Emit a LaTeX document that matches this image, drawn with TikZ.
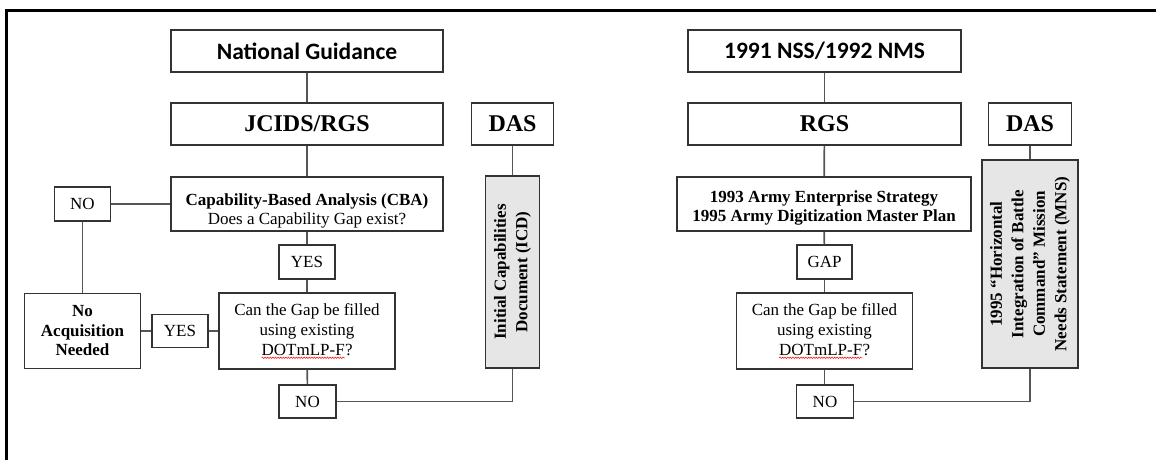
\documentclass[tikz,border=0pt]{standalone}
\usepackage{fontspec}
\setmainfont{Liberation Serif}
\newfontfamily\carlito{Carlito}
\usetikzlibrary{decorations.pathmorphing}
\definecolor{boxc}{HTML}{333333}
\definecolor{linec}{HTML}{555555}
\definecolor{grayfill}{HTML}{E6E6E6}
\newcommand\bodyfont{\fontsize{17}{20}\selectfont}
\newcommand\headfont{\carlito\bfseries\fontsize{23.5}{28}\selectfont}
\newcommand\bigfont{\bfseries\fontsize{24}{28}\selectfont}
\newcommand\vfont{\bfseries\fontsize{17}{21.5}\selectfont}
\newcommand\spellerr[1]{\tikz[baseline=(w.base),x=1pt,y=1pt]{\node[inner sep=0pt,outer sep=0pt,draw=none,fill=none,minimum width=0pt,minimum height=0pt,text height={},text depth={}](w){#1};\draw[draw=red,fill=none,line width=0.5pt,decorate,decoration={snake,amplitude=0.7pt,segment length=2.6pt}]([yshift=-2.5pt]w.base west)--([yshift=-2.5pt]w.base east);}}
\begin{document}
\begin{tikzpicture}[x=1pt,y=-1pt,
  box/.style={draw=boxc, line width=1.3pt, fill=white, inner sep=0pt, align=center, font=\bodyfont},
  conn/.style={draw=linec, line width=1.7pt},
  vbox/.style={box, fill=grayfill, rotate=90, font=\vfont}]
\useasboundingbox (0,0) rectangle (1156,460);
\draw[line width=3pt] (6.5,460) -- (6.5,10.5) -- (1156,10.5);

% ---------- left diagram ----------
\node[box, minimum width=272, minimum height=42, font=\headfont] (ng) at (307,51) {National Guidance};
\node[box, minimum width=272, minimum height=42, font=\bigfont] (jc) at (307,124) {JCIDS/RGS};
\node[box, minimum width=82, minimum height=42, font=\bigfont] (dasL) at (512.5,124) {DAS};
\node[box, minimum width=272, text height=47.6, text depth=6.4, font=\fontsize{17}{19}\selectfont] (cba) at (307,204)
  {\textbf{Capability-Based Analysis (CBA)}\\Does a Capability Gap exist?};
\node[box, minimum width=56, minimum height=34] (noL) at (82.5,204) {NO};
\node[box, minimum width=56, minimum height=34] (yesT) at (307,262) {YES};
\node[box, minimum width=176, minimum height=76, font=\fontsize{17}{20}\selectfont] (can) at (307,331)
  {Can the Gap be filled\\using existing\\\spellerr{DOTmLP-F}?};
\node[box, minimum width=116, minimum height=75, font=\bfseries\fontsize{17}{19.5}\selectfont] (noacq) at (82.5,331)
  {No\\Acquisition\\Needed};
\node[box, minimum width=56, minimum height=33] (yesS) at (180,331) {YES};
\node[box, minimum width=57, minimum height=33] (noB) at (307.5,401.5) {NO};
\node[vbox, minimum width=192, minimum height=54] (icd) at (512.5,272)
  {Initial Capabilities\\Document (ICD)};

\draw[conn] (ng) -- (jc);
\draw[conn] (jc) -- (cba);
\draw[conn] (cba) -- (yesT);
\draw[conn] (yesT) -- (can);
\draw[conn] (can) -- (noB);
\draw[conn] (cba.west) -- (noL.east);
\draw[conn] (noL) -- (noacq);
\draw[conn] (noacq) -- (yesS);
\draw[conn] (yesS) -- (can);
\draw[conn] (dasL.south) -- (icd.east);
\draw[conn] (noB.east) -| (icd.west);

% ---------- right diagram ----------
\node[box, minimum width=273, minimum height=42, font=\headfont] (ng2) at (824.5,51) {1991 NSS/1992 NMS};
\node[box, minimum width=273, minimum height=42, font=\bigfont] (rgs) at (824.5,124) {RGS};
\node[box, minimum width=83, minimum height=42, font=\bigfont] (dasR) at (1030,124) {DAS};
\node[box, minimum width=294, text height=44, text depth=10, font=\bfseries\fontsize{17}{19}\selectfont] (arm) at (824,204)
  {1993 Army Enterprise Strategy\\1995 Army Digitization Master Plan};
\node[box, minimum width=55, minimum height=34] (gap) at (824.5,262) {GAP};
\node[box, minimum width=176, minimum height=76, font=\fontsize{17}{20}\selectfont] (can2) at (824.5,331)
  {Can the Gap be filled\\using existing\\\spellerr{DOTmLP-F}?};
\node[box, minimum width=57, minimum height=33] (noR) at (825,401.5) {NO};
\node[vbox, minimum width=208, minimum height=96] (mns) at (1030,264)
  {1995 “Horizontal\\Integration of Battle\\Command” Mission\\Needs Statement (MNS)};

\draw[conn] (ng2) -- (rgs);
\draw[conn] (rgs) -- (arm);
\draw[conn] (arm) -- (gap);
\draw[conn] (gap) -- (can2);
\draw[conn] (can2.south) -- (can2.south |- noR.north);
\draw[conn] (dasR.south) -- (mns.east);
\draw[conn] (noR.east) -| (mns.west);
\end{tikzpicture}
\end{document}
